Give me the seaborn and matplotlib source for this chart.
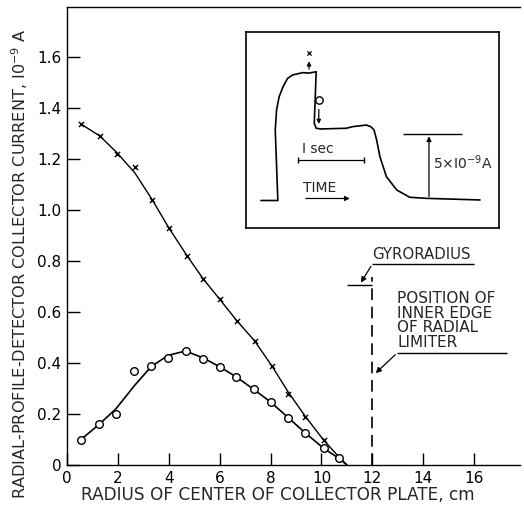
import matplotlib
matplotlib.use("Agg")
import matplotlib.pyplot as plt
import seaborn as sns
import pandas as pd

# ---- data ----
x_cross = [0.55, 1.29, 1.96, 2.67, 3.35, 4.0, 4.72, 5.35, 6.0, 6.68, 7.37, 8.04, 8.7, 9.37, 10.08, 10.7]
y_cross = [1.337, 1.29, 1.22, 1.17, 1.04, 0.93, 0.82, 0.73, 0.65, 0.565, 0.487, 0.39, 0.28, 0.19, 0.098, 0.027]
fit_cross_x = [0.55, 1.29, 1.96, 2.67, 3.35, 4.0, 4.72, 5.35, 6.0, 6.68, 7.37, 8.04, 8.7, 9.37, 10.08, 10.7, 11.0]
fit_cross_y = [1.337, 1.29, 1.225, 1.145, 1.04, 0.93, 0.82, 0.73, 0.65, 0.565, 0.487, 0.39, 0.285, 0.19, 0.098, 0.03, 0.0]

x_circ = [0.55, 1.27, 1.92, 2.64, 3.3, 3.97, 4.66, 5.35, 6.0, 6.66, 7.33, 8.0, 8.7, 9.37, 10.08, 10.7]
y_circ = [0.098, 0.16, 0.2, 0.37, 0.39, 0.42, 0.447, 0.415, 0.385, 0.345, 0.297, 0.247, 0.185, 0.125, 0.066, 0.027]
fit_circ_x = [0.55, 1.27, 1.92, 2.64, 3.3, 3.97, 4.66, 5.35, 6.0, 6.66, 7.33, 8.0, 8.7, 9.37, 10.08, 10.7, 11.0]
fit_circ_y = [0.1, 0.16, 0.22, 0.31, 0.385, 0.43, 0.447, 0.42, 0.385, 0.345, 0.297, 0.247, 0.185, 0.125, 0.066, 0.025, 0.0]

x_ticks = [0, 2, 4, 6, 8, 10, 12, 14, 16]
y_ticks = [0, 0.2, 0.4, 0.6, 0.8, 1.0, 1.2, 1.4, 1.6]
y_tick_labels = ["0", "0.2", "0.4", "0.6", "0.8", "1.0", "1.2", "1.4", "1.6"]

limiter_r = 12.0
gyro_start = 11.02

# inset oscilloscope trace (time in s, current in 1e-9 A)
trace_t = [0.23, 0.49, 0.45, 0.47, 0.51, 0.57, 0.64, 0.72, 0.87, 0.97, 1.08, 1.05, 1.08, 1.15,
           1.54, 1.64, 1.85, 1.92, 1.97, 2.01, 2.06, 2.16, 2.32, 2.52, 2.78, 3.60]
trace_a = [0.0, 0.0, 5.26, 6.75, 7.75, 8.49, 9.12, 9.37, 9.54, 9.51, 9.61, 5.76, 5.39, 5.34,
           5.39, 5.51, 5.63, 5.51, 5.26, 4.51, 3.27, 1.78, 0.78, 0.24, 0.16, 0.04]

# ---- figure ----
sns.set_theme(style="ticks")
plt.rcParams['font.family'] = ['DejaVu Sans']
fig = plt.figure(figsize=(5.24, 5.14), dpi=100)
ax = fig.add_axes([67/524, 1 - 465/514, (520-67)/524, (465-7)/514])

df_fc = pd.DataFrame({"x": fit_cross_x, "y": fit_cross_y})
df_fo = pd.DataFrame({"x": fit_circ_x, "y": fit_circ_y})
sns.lineplot(data=df_fc, x="x", y="y", ax=ax, color="black", lw=1.0, estimator=None, sort=False)
sns.lineplot(data=df_fo, x="x", y="y", ax=ax, color="black", lw=1.2, estimator=None, sort=False)
sns.scatterplot(x=x_cross, y=y_cross, ax=ax, marker="x", color="black", s=14, linewidth=1.0, zorder=5)
sns.scatterplot(x=x_circ, y=y_circ, ax=ax, marker="o", facecolor="white", edgecolor="black",
                s=30, linewidth=1.0, zorder=5)

ax.set_xlim(0, 17.8)
ax.set_ylim(0, 1.796)
ax.set_xticks(x_ticks)
ax.set_xticklabels([str(v) for v in x_ticks])
ax.set_yticks(y_ticks)
ax.set_yticklabels(y_tick_labels)
ax.tick_params(direction="in", length=9, width=1.0, labelsize=11, colors="black", pad=4)
ax.spines["right"].set_visible(False)
for s in ["left", "bottom", "top"]:
    ax.spines[s].set_color("black")
    ax.spines[s].set_linewidth(1.0)
ax.set_xlabel("RADIUS OF CENTER OF COLLECTOR PLATE, cm", fontsize=12.2)
ax.set_ylabel("RADIAL-PROFILE-DETECTOR COLLECTOR CURRENT, I0$^{-9}$ A", fontsize=11.6)
ax.xaxis.set_label_coords((278 - 67) / 453, (465 - 495) / 458)
ax.yaxis.set_label_coords((20 - 67) / 453, (465 - 264) / 458)
ax.xaxis.label.set_va("center")
ax.yaxis.label.set_va("center")

# limiter & gyroradius annotations
ax.vlines(limiter_r, 0, 0.737, colors="black", linestyles=(0, (7, 4)), lw=1.2)
ax.hlines(0.706, gyro_start, limiter_r, colors="black", lw=1.0)
ax.text(limiter_r, 0.824, "GYRORADIUS", fontsize=10.8, va="center", ha="left")
ax.hlines(0.788, limiter_r, 16.0, colors="black", lw=1.0)
ax.annotate("", xy=(11.49, 0.706), xytext=(12.0, 0.788),
            arrowprops=dict(arrowstyle="-|>", color="black", lw=0.9, mutation_scale=8))
ax.text(12.98, 0.567, "POSITION OF\nINNER EDGE\nOF RADIAL\nLIMITER", fontsize=11,
        va="center", ha="left", linespacing=0.98)
ax.hlines(0.44, 12.98, 17.3, colors="black", lw=1.0)
ax.annotate("", xy=(12.05, 0.353), xytext=(12.98, 0.44),
            arrowprops=dict(arrowstyle="-|>", color="black", lw=0.9, mutation_scale=8))

# ---- inset ----
ins = fig.add_axes([246/524, 1 - 228/514, (499-246)/524, (228-32)/514])
ins.set_xlim(0, 253/65)
ins.set_ylim(-27.5/13.4, 168.5/13.4)
ins.set_xticks([])
ins.set_yticks([])
for s in ins.spines.values():
    s.set_color("black")
    s.set_linewidth(1.2)
df_tr = pd.DataFrame({"t": trace_t, "a": trace_a})
sns.lineplot(data=df_tr, x="t", y="a", ax=ins, color="black", lw=1.2, estimator=None, sort=False)
ins.set_xlabel("")
ins.set_ylabel("")
ins.scatter([0.97], [11.0], marker="x", color="black", s=9, linewidth=0.9)
ins.annotate("", xy=(0.97, 10.6), xytext=(0.97, 9.6),
             arrowprops=dict(arrowstyle="-|>", color="black", lw=0.9, mutation_scale=6))
ins.scatter([1.12], [7.5], marker="o", facecolor="white", edgecolor="black", s=28, linewidth=1.0, zorder=5)
ins.annotate("", xy=(1.12, 5.5), xytext=(1.12, 7.0),
             arrowprops=dict(arrowstyle="-|>", color="black", lw=0.9, mutation_scale=6))
ins.text(0.86, 3.85, "I sec", fontsize=10, ha="left", va="center")
ins.plot([0.8, 1.81], [3.05, 3.05], color="black", lw=0.9, marker="|", ms=5)
ins.text(0.88, 0.95, "TIME", fontsize=10, ha="left", va="center")
ins.annotate("", xy=(1.64, 0.15), xytext=(0.88, 0.15),
             arrowprops=dict(arrowstyle="-|>", color="black", lw=0.9, mutation_scale=7))
ins.hlines(5.0, 2.42, 3.32, colors="black", lw=1.0)
ins.annotate("", xy=(2.815, 5.0), xytext=(2.815, 0.1),
             arrowprops=dict(arrowstyle="-|>", color="black", lw=0.9, mutation_scale=7))
ins.text(2.87, 2.8, "5×I0$^{-9}$A", fontsize=10, ha="left", va="center")

fig.savefig("out.png", dpi=100)
